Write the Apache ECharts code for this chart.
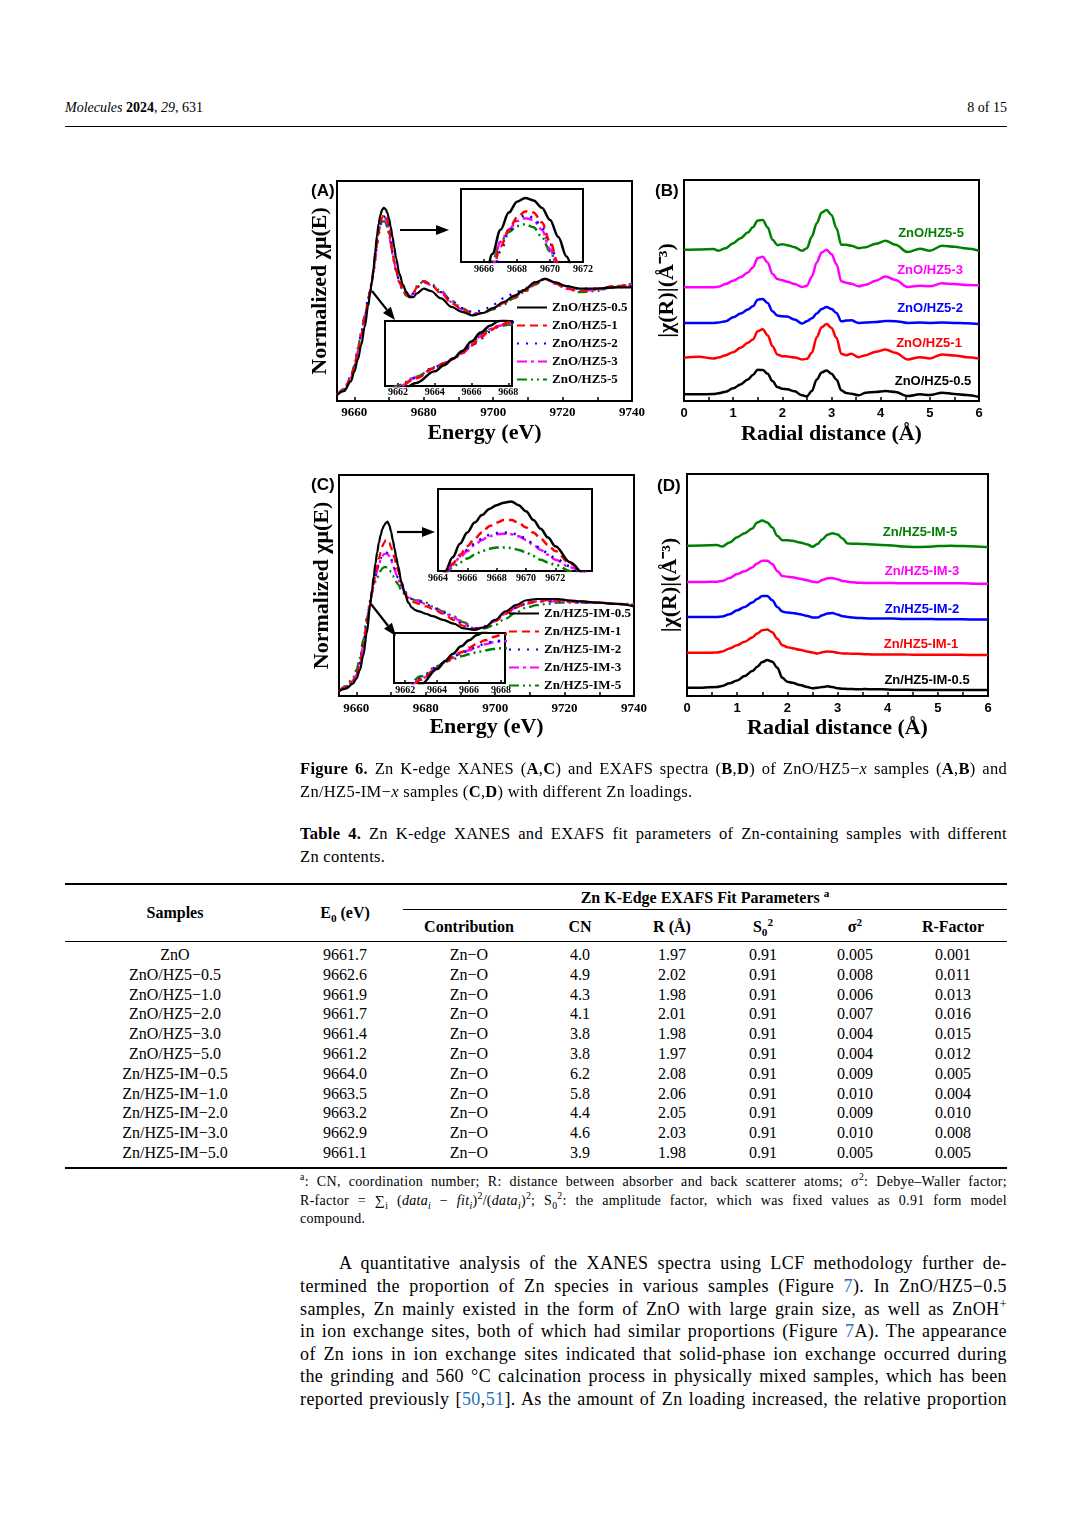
<!DOCTYPE html>
<html>
<head>
<meta charset="utf-8">
<title>Figure 6</title>
<script src="https://cdn.jsdelivr.net/npm/echarts@6.0.0/dist/echarts.min.js"></script>
<style>
  html, body { margin: 0; padding: 0; background: #fff; }
  body { position: relative; width: 1072px; height: 1516px; overflow: hidden; font-family: 'Liberation Serif', 'Times New Roman', serif; color: #000; }
  #fig { position: absolute; left: 0; top: 0; width: 1072px; height: 760px; }
  .t { position: absolute; white-space: nowrap; }
  .ln { position: absolute; text-align: justify; text-align-last: justify; letter-spacing: 0.3px; }
  .ln.end { text-align-last: left; }
  .rule { position: absolute; background: #000; }
  .c { position: absolute; white-space: nowrap; transform: translateX(-50%); line-height: 20px; font-size: 16px; }
  .ref { color: #2a6ebb; }
  sub, sup { font-size: 70%; line-height: 0; }
</style>
</head>
<body>
<div class="t" style="left:65px;top:99px;font-size:14px;line-height:18px"><i>Molecules</i> <b>2024</b>, <i>29</i>, 631</div>
<div class="t" style="right:65px;top:99px;font-size:14px;line-height:18px">8 of 15</div>
<div class="rule" style="left:65px;top:126px;width:942px;height:1px"></div>

<div id="fig"></div>

<div class="ln" style="left:300px;top:758px;width:707px;font-size:16.5px;line-height:22px"><b>Figure 6.</b> Zn K-edge XANES (<b>A</b>,<b>C</b>) and EXAFS spectra (<b>B</b>,<b>D</b>) of ZnO/HZ5−<i>x</i> samples (<b>A</b>,<b>B</b>) and</div>
<div class="ln end" style="left:300px;top:781px;width:707px;font-size:16.5px;line-height:22px">Zn/HZ5-IM−<i>x</i> samples (<b>C</b>,<b>D</b>) with different Zn loadings.</div>

<div class="ln" style="left:300px;top:823px;width:707px;font-size:16.5px;line-height:22px"><b>Table 4.</b> Zn K-edge XANES and EXAFS fit parameters of Zn-containing samples with different</div>
<div class="ln end" style="left:300px;top:846px;width:707px;font-size:16.5px;line-height:22px">Zn contents.</div>

<div class="rule" style="left:65px;top:883px;width:942px;height:1.5px"></div>
<div class="rule" style="left:403px;top:909px;width:604px;height:1px"></div>
<div class="rule" style="left:65px;top:941px;width:942px;height:1px"></div>
<div class="rule" style="left:65px;top:1167px;width:942px;height:1.5px"></div>
<div id="table"></div>

<div class="ln" style="left:300px;top:1173px;width:707px;font-size:14px;line-height:18px"><sup>a</sup>: CN, coordination number; R: distance between absorber and back scatterer atoms; σ<sup>2</sup>: Debye–Waller factor;</div>
<div class="ln" style="left:300px;top:1192px;width:707px;font-size:14px;line-height:18px">R-factor = ∑<sub>i</sub> (<i>data<sub>i</sub></i> − <i>fit<sub>i</sub></i>)<sup>2</sup>/(<i>data<sub>i</sub></i>)<sup>2</sup>; S<sub>0</sub><sup>2</sup>: the amplitude factor, which was fixed values as 0.91 form model</div>
<div class="ln end" style="left:300px;top:1210px;width:707px;font-size:14px;line-height:18px">compound.</div>

<div class="ln" style="left:339px;top:1252px;width:668px;font-size:18px;line-height:22px;letter-spacing:0.4px">A quantitative analysis of the XANES spectra using LCF methodology further de-</div>
<div class="ln" style="left:300px;top:1275px;width:707px;font-size:18px;line-height:22px;letter-spacing:0.4px">termined the proportion of Zn species in various samples (Figure <span class="ref">7</span>). In ZnO/HZ5−0.5</div>
<div class="ln" style="left:300px;top:1298px;width:707px;font-size:18px;line-height:22px;letter-spacing:0.4px">samples, Zn mainly existed in the form of ZnO with large grain size, as well as ZnOH<sup>+</sup></div>
<div class="ln" style="left:300px;top:1320px;width:707px;font-size:18px;line-height:22px;letter-spacing:0.4px">in ion exchange sites, both of which had similar proportions (Figure <span class="ref">7</span>A). The appearance</div>
<div class="ln" style="left:300px;top:1343px;width:707px;font-size:18px;line-height:22px;letter-spacing:0.4px">of Zn ions in ion exchange sites indicated that solid-phase ion exchange occurred during</div>
<div class="ln" style="left:300px;top:1365px;width:707px;font-size:18px;line-height:22px;letter-spacing:0.4px">the grinding and 560 °C calcination process in physically mixed samples, which has been</div>
<div class="ln" style="left:300px;top:1388px;width:707px;font-size:18px;line-height:22px;letter-spacing:0.4px">reported previously [<span class="ref">50</span>,<span class="ref">51</span>]. As the amount of Zn loading increased, the relative proportion</div>

<script>
// ---- XANES energy grid (eV) and spectra ----
const energy = [9655, 9657, 9659, 9660, 9661, 9662, 9663, 9664,
  9664.5, 9665, 9665.5, 9666, 9666.5, 9667, 9667.5, 9668, 9668.5, 9669, 9669.5, 9670, 9670.5, 9671, 9671.5, 9672,
  9673, 9674, 9675, 9676, 9677, 9678, 9680, 9682,
  9685, 9688, 9691, 9694, 9697, 9700, 9703, 9706, 9709, 9712, 9715, 9718, 9721,
  9725, 9730, 9735, 9740];

const xanesA_05 = [0.05, 0.08, 0.16, 0.24, 0.34, 0.46, 0.61, 0.78,
  0.87, 0.97, 1.08, 1.22, 1.35, 1.45, 1.52, 1.565, 1.58, 1.57, 1.54, 1.49, 1.42, 1.34, 1.26, 1.17,
  1.04, 0.95, 0.89, 0.85, 0.85, 0.88, 0.92, 0.90,
  0.84, 0.77, 0.73, 0.70, 0.72, 0.76, 0.81, 0.86, 0.91, 0.97, 1.00, 0.97, 0.94,
  0.92, 0.92, 0.93, 0.93];
const xanesA_1 = [0.05, 0.09, 0.19, 0.28, 0.40, 0.54, 0.68, 0.83,
  0.90, 0.97, 1.05, 1.16, 1.28, 1.38, 1.45, 1.50, 1.525, 1.52, 1.48, 1.40, 1.31, 1.22, 1.14, 1.07,
  0.97, 0.91, 0.87, 0.86, 0.88, 0.93, 0.98, 0.95,
  0.88, 0.80, 0.75, 0.71, 0.72, 0.76, 0.80, 0.85, 0.90, 0.96, 1.00, 0.96, 0.92,
  0.90, 0.92, 0.94, 0.95];
const xanesA_2 = [0.05, 0.09, 0.19, 0.28, 0.41, 0.55, 0.69, 0.84,
  0.90, 0.97, 1.05, 1.15, 1.26, 1.36, 1.44, 1.49, 1.51, 1.50, 1.46, 1.39, 1.31, 1.22, 1.14, 1.07,
  0.97, 0.91, 0.87, 0.86, 0.88, 0.93, 0.97, 0.95,
  0.89, 0.82, 0.76, 0.73, 0.74, 0.79, 0.84, 0.88, 0.92, 0.97, 1.00, 0.97, 0.94,
  0.92, 0.92, 0.93, 0.94];
const xanesA_3 = [0.05, 0.09, 0.19, 0.28, 0.41, 0.55, 0.69, 0.83,
  0.89, 0.96, 1.05, 1.17, 1.30, 1.40, 1.45, 1.485, 1.497, 1.49, 1.45, 1.37, 1.28, 1.20, 1.13, 1.06,
  0.97, 0.91, 0.86, 0.85, 0.88, 0.93, 0.98, 0.95,
  0.89, 0.81, 0.75, 0.71, 0.72, 0.76, 0.80, 0.85, 0.90, 0.96, 1.00, 0.96, 0.92,
  0.90, 0.91, 0.93, 0.95];
const xanesA_5 = [0.05, 0.10, 0.20, 0.29, 0.43, 0.57, 0.70, 0.84,
  0.90, 0.96, 1.05, 1.18, 1.32, 1.40, 1.44, 1.465, 1.472, 1.46, 1.42, 1.36, 1.29, 1.21, 1.14, 1.07,
  0.97, 0.90, 0.86, 0.85, 0.89, 0.94, 0.98, 0.96,
  0.90, 0.82, 0.76, 0.72, 0.72, 0.75, 0.79, 0.84, 0.89, 0.95, 1.00, 0.96, 0.92,
  0.89, 0.90, 0.94, 0.96];

const xanesC_05 = [0.04, 0.06, 0.10, 0.14, 0.21, 0.33, 0.51, 0.74,
  0.86, 0.97, 1.08, 1.17, 1.25, 1.31, 1.36, 1.39, 1.41, 1.42, 1.39, 1.34, 1.27, 1.20, 1.13, 1.06,
  0.93, 0.83, 0.76, 0.72, 0.70, 0.69, 0.67, 0.65,
  0.62, 0.59, 0.55, 0.54, 0.56, 0.62, 0.69, 0.74, 0.78, 0.79, 0.79, 0.79, 0.78,
  0.77, 0.76, 0.75, 0.73];
const xanesC_1 = [0.04, 0.07, 0.12, 0.17, 0.26, 0.40, 0.58, 0.75,
  0.84, 0.92, 0.99, 1.06, 1.12, 1.17, 1.22, 1.25, 1.27, 1.27, 1.25, 1.21, 1.17, 1.12, 1.07, 1.02,
  0.92, 0.84, 0.79, 0.77, 0.76, 0.75, 0.73, 0.71,
  0.67, 0.62, 0.57, 0.54, 0.56, 0.61, 0.67, 0.72, 0.76, 0.77, 0.78, 0.78, 0.77,
  0.77, 0.76, 0.75, 0.74];
const xanesC_2 = [0.04, 0.07, 0.13, 0.18, 0.27, 0.42, 0.60, 0.77,
  0.85, 0.92, 0.98, 1.03, 1.08, 1.12, 1.15, 1.165, 1.17, 1.165, 1.15, 1.12, 1.08, 1.04, 1.00, 0.96,
  0.90, 0.85, 0.81, 0.79, 0.78, 0.77, 0.75, 0.72,
  0.68, 0.63, 0.58, 0.55, 0.57, 0.62, 0.68, 0.72, 0.75, 0.77, 0.77, 0.77, 0.77,
  0.76, 0.76, 0.75, 0.74];
const xanesC_3 = [0.04, 0.07, 0.12, 0.17, 0.27, 0.41, 0.59, 0.76,
  0.84, 0.91, 0.97, 1.02, 1.07, 1.11, 1.14, 1.155, 1.16, 1.155, 1.14, 1.11, 1.07, 1.03, 0.99, 0.95,
  0.89, 0.85, 0.81, 0.79, 0.78, 0.77, 0.75, 0.72,
  0.68, 0.64, 0.59, 0.55, 0.56, 0.61, 0.67, 0.72, 0.75, 0.77, 0.77, 0.77, 0.77,
  0.76, 0.76, 0.75, 0.74];
const xanesC_5 = [0.04, 0.08, 0.15, 0.21, 0.31, 0.46, 0.63, 0.78,
  0.84, 0.89, 0.93, 0.96, 0.99, 1.02, 1.04, 1.05, 1.05, 1.045, 1.03, 1.01, 0.98, 0.95, 0.93, 0.91,
  0.86, 0.83, 0.80, 0.79, 0.78, 0.78, 0.76, 0.73,
  0.69, 0.65, 0.60, 0.55, 0.55, 0.58, 0.63, 0.68, 0.72, 0.74, 0.75, 0.76, 0.76,
  0.76, 0.76, 0.75, 0.75];

// ---- EXAFS radial grid (Å) and |χ(R)| above each curve's own baseline ----
const radial = [0, 0.3, 0.6, 0.7, 0.85,
  1.0, 1.15, 1.3, 1.4, 1.5, 1.6, 1.7, 1.8, 1.9,
  2.0, 2.1, 2.25, 2.4, 2.5, 2.6, 2.7, 2.8, 2.9,
  3.0, 3.1, 3.2, 3.3, 3.4, 3.55, 3.7, 3.9,
  4.1, 4.3, 4.55, 4.8,
  5.0, 5.25, 5.5, 5.75, 6.0];

const exafsB_05 = [0, 0, 0.01, 0.03, 0.08,
  0.18, 0.30, 0.45, 0.58, 0.74, 0.73, 0.62, 0.40, 0.22,
  0.17, 0.15, 0.09, -0.03, -0.06, 0.10, 0.45, 0.66, 0.72,
  0.62, 0.45, 0.12, 0.04, 0.02, -0.03, 0.05, 0.07,
  0.10, 0.07, -0.05, 0.00,
  -0.02, 0.05, 0.01, -0.02, -0.08];
const exafsB_1 = [0, 0.03, -0.02, 0.01, 0.08,
  0.17, 0.30, 0.45, 0.55, 0.80, 0.86, 0.68, 0.35, 0.10,
  0.05, 0.04, 0.01, -0.05, -0.03, 0.15, 0.62, 0.92, 1.02,
  0.90, 0.60, 0.12, 0.08, 0.12, 0.02, 0.08, 0.18,
  0.25, 0.15, -0.05, 0.02,
  -0.02, 0.10, 0.07, 0.02, -0.02];
const exafsB_2 = [0, 0, 0, 0.01, 0.05,
  0.17, 0.28, 0.40, 0.50, 0.70, 0.72, 0.60, 0.35, 0.22,
  0.20, 0.19, 0.10, -0.02, 0.05, 0.14, 0.28, 0.42, 0.48,
  0.42, 0.30, 0.05, 0.07, 0.08, 0.00, 0.01, 0.03,
  0.06, 0.05, 0.00, 0.01,
  0.00, 0.01, 0.00, -0.01, -0.03];
const exafsB_3 = [0, 0, 0, 0.02, 0.10,
  0.20, 0.30, 0.45, 0.60, 0.88, 0.92, 0.75, 0.40, 0.25,
  0.21, 0.17, 0.10, 0.01, 0.05, 0.32, 0.75, 1.05, 1.13,
  1.00, 0.70, 0.18, 0.14, 0.11, 0.03, 0.08, 0.20,
  0.33, 0.22, 0.01, 0.05,
  0.03, 0.12, 0.10, 0.07, 0.06];
const exafsB_5 = [0, 0.01, 0.02, -0.03, 0.05,
  0.20, 0.35, 0.52, 0.68, 0.88, 0.90, 0.68, 0.30, 0.14,
  0.17, 0.14, 0.08, -0.03, 0.05, 0.40, 0.80, 1.12, 1.20,
  1.05, 0.65, 0.15, 0.15, 0.12, 0.05, 0.08, 0.18,
  0.27, 0.15, -0.07, 0.03,
  -0.03, 0.12, 0.09, 0.04, -0.03];

const exafsD_05 = [0, 0, 0.02, 0.05, 0.13,
  0.22, 0.35, 0.50, 0.63, 0.77, 0.83, 0.78, 0.60, 0.30,
  0.18, 0.15, 0.08, 0.02, -0.02, 0.00, 0.02, 0.04, 0.02,
  -0.02, -0.03, -0.04, -0.04, -0.05, -0.04, -0.05, -0.05,
  -0.06, -0.06, -0.07, -0.07,
  -0.07, -0.07, -0.07, -0.07, -0.07];
const exafsD_1 = [0, 0, 0.01, 0.04, 0.13,
  0.23, 0.33, 0.46, 0.58, 0.68, 0.70, 0.62, 0.42, 0.23,
  0.17, 0.14, 0.09, 0.04, 0.01, -0.02, 0.02, 0.04, 0.03,
  0.00, -0.02, -0.02, -0.03, -0.03, -0.04, -0.05, -0.05,
  -0.05, -0.05, -0.06, -0.06,
  -0.06, -0.06, -0.06, -0.07, -0.07];
const exafsD_2 = [0, 0, 0, 0.01, 0.08,
  0.20, 0.30, 0.43, 0.54, 0.63, 0.63, 0.50, 0.30, 0.16,
  0.13, 0.12, 0.08, 0.03, -0.02, -0.02, 0.05, 0.10, 0.12,
  0.07, 0.02, 0.00, -0.02, -0.03, -0.04, -0.05, -0.05,
  -0.05, -0.06, -0.06, -0.06,
  -0.07, -0.07, -0.07, -0.08, -0.08];
const exafsD_3 = [0, 0, 0.01, 0.03, 0.12,
  0.24, 0.32, 0.44, 0.56, 0.64, 0.64, 0.54, 0.33, 0.18,
  0.16, 0.14, 0.10, 0.05, 0.01, -0.01, 0.06, 0.11, 0.12,
  0.08, 0.03, 0.01, -0.01, -0.02, -0.03, -0.03, -0.03,
  -0.03, -0.04, -0.04, -0.04,
  -0.04, -0.04, -0.04, -0.05, -0.05];
const exafsD_5 = [0, 0.01, 0.02, -0.02, 0.10,
  0.26, 0.38, 0.52, 0.70, 0.76, 0.70, 0.55, 0.30, 0.17,
  0.17, 0.15, 0.10, 0.04, -0.03, 0.05, 0.20, 0.33, 0.38,
  0.34, 0.22, 0.07, 0.06, 0.06, 0.05, 0.04, 0.02,
  0.01, -0.02, -0.04, -0.03,
  -0.01, 0.00, -0.01, -0.02, -0.04];

// ---- sample names and tick values ----
const namesA = ['ZnO/HZ5-0.5', 'ZnO/HZ5-1', 'ZnO/HZ5-2', 'ZnO/HZ5-3', 'ZnO/HZ5-5'];
const namesC = ['Zn/HZ5-IM-0.5', 'Zn/HZ5-IM-1', 'Zn/HZ5-IM-2', 'Zn/HZ5-IM-3', 'Zn/HZ5-IM-5'];
const energyLabels = [9660, 9680, 9700, 9720, 9740];
const energyTicks = [9660, 9670, 9680, 9690, 9700, 9710, 9720, 9730, 9740];
const insetA1Labels = [9666, 9668, 9670, 9672];
const insetA2Labels = [9662, 9664, 9666, 9668];
const insetC1Labels = [9664, 9666, 9668, 9670, 9672];
const insetC2Labels = [9662, 9664, 9666, 9668];
const radialLabels = [0, 1, 2, 3, 4, 5, 6];
const radialTicks = [0, 0.5, 1, 1.5, 2, 2.5, 3, 3.5, 4, 4.5, 5, 5.5, 6];

// ---- Table 4 ----
const tblSamples = ['ZnO', 'ZnO/HZ5−0.5', 'ZnO/HZ5−1.0', 'ZnO/HZ5−2.0', 'ZnO/HZ5−3.0', 'ZnO/HZ5−5.0',
  'Zn/HZ5-IM−0.5', 'Zn/HZ5-IM−1.0', 'Zn/HZ5-IM−2.0', 'Zn/HZ5-IM−3.0', 'Zn/HZ5-IM−5.0'];
const tblE0 = ['9661.7', '9662.6', '9661.9', '9661.7', '9661.4', '9661.2', '9664.0', '9663.5', '9663.2', '9662.9', '9661.1'];
const tblContribution = ['Zn−O', 'Zn−O', 'Zn−O', 'Zn−O', 'Zn−O', 'Zn−O', 'Zn−O', 'Zn−O', 'Zn−O', 'Zn−O', 'Zn−O'];
const tblCN = ['4.0', '4.9', '4.3', '4.1', '3.8', '3.8', '6.2', '5.8', '4.4', '4.6', '3.9'];
const tblR = ['1.97', '2.02', '1.98', '2.01', '1.98', '1.97', '2.08', '2.06', '2.05', '2.03', '1.98'];
const tblS02 = ['0.91', '0.91', '0.91', '0.91', '0.91', '0.91', '0.91', '0.91', '0.91', '0.91', '0.91'];
const tblSigma2 = ['0.005', '0.008', '0.006', '0.007', '0.004', '0.004', '0.009', '0.010', '0.009', '0.010', '0.005'];
const tblRFactor = ['0.001', '0.011', '0.013', '0.016', '0.015', '0.012', '0.005', '0.004', '0.010', '0.008', '0.005'];

// build table
(function () {
  const host = document.getElementById('table');
  const colX = [175, 345, 469, 580, 672, 763, 855, 953];
  function cell(x, top, html, bold) {
    const d = document.createElement('div');
    d.className = 'c';
    d.style.left = x + 'px';
    d.style.top = top + 'px';
    if (bold) d.style.fontWeight = 'bold';
    d.innerHTML = html;
    host.appendChild(d);
  }
  cell(705, 888, 'Zn K-Edge EXAFS Fit Parameters <sup>a</sup>', true);
  cell(colX[0], 903, 'Samples', true);
  cell(colX[1], 903, 'E<sub>0</sub> (eV)', true);
  ['Contribution', 'CN', 'R (Å)', 'S<sub>0</sub><sup>2</sup>', 'σ<sup>2</sup>', 'R-Factor'].forEach(function (h, i) {
    cell(colX[i + 2], 917, h, true);
  });
  const cols = [tblSamples, tblE0, tblContribution, tblCN, tblR, tblS02, tblSigma2, tblRFactor];
  tblSamples.forEach(function (s, r) {
    cols.forEach(function (col, c) { cell(colX[c], 945 + r * 19.8, col[r], false); });
  });
})();

// ---- chart ----
const colors = ['#000000', '#ff0000', '#0000ff', '#ff00ff', '#008000'];
const dashes = ['solid', [8, 5], [2, 7], [10, 4, 3, 4], [10, 4, 2, 4, 2, 4]];
const drawOrder = [4, 3, 2, 1, 0];
const xanesA = [xanesA_05, xanesA_1, xanesA_2, xanesA_3, xanesA_5];
const xanesC = [xanesC_05, xanesC_1, xanesC_2, xanesC_3, xanesC_5];
const exafsB = [exafsB_05, exafsB_1, exafsB_2, exafsB_3, exafsB_5];
const exafsD = [exafsD_05, exafsD_1, exafsD_2, exafsD_3, exafsD_5];
const offsetB = [0.20, 1.30, 2.35, 3.42, 4.55];
const offsetD = [0.25, 1.30, 2.38, 3.43, 4.52];

const SERIF = 'Liberation Serif';
const SANS = 'Liberation Sans';

function lineSeries(name, xs, ys, axis, k, width, shift, dash) {
  return {
    name: name, type: 'line', xAxisIndex: axis, yAxisIndex: axis,
    data: xs.map(function (x, i) { return [x, ys[i] + shift]; }),
    symbol: 'none', showSymbol: false, smooth: 0.35, smoothMonotone: 'x', clip: true, silent: true,
    lineStyle: { color: colors[k], width: width, type: dash },
    itemStyle: { color: colors[k] }
  };
}

const series = [];
[0, 1, 2].forEach(function (ax) {
  drawOrder.forEach(function (k) {
    series.push(lineSeries(namesA[k], energy, xanesA[k], ax, k, ax === 0 ? 2.2 : 2.5, 0, dashes[k]));
  });
});
drawOrder.forEach(function (k) { series.push(lineSeries(namesA[k], radial, exafsB[k], 3, k, 2.5, offsetB[k], 'solid')); });
[4, 5, 6].forEach(function (ax) {
  drawOrder.forEach(function (k) {
    series.push(lineSeries(namesC[k], energy, xanesC[k], ax, k, ax === 4 ? 2.2 : 2.5, 0, dashes[k]));
  });
});
drawOrder.forEach(function (k) { series.push(lineSeries(namesC[k], radial, exafsD[k], 7, k, 2.5, offsetD[k], 'solid')); });

function frame(left, top, width, height, bg) {
  return { left: left, top: top, width: width, height: height, show: true, borderColor: '#000', borderWidth: 2,
    backgroundColor: bg, containLabel: false, outerBoundsMode: 'none' };
}

function plain(v) { return String(v); }

function xAxisDef(grid, min, max, labels, ticks, font, size, margin, name, gap) {
  return {
    gridIndex: grid, type: 'value', min: min, max: max,
    axisLine: { show: false }, splitLine: { show: false },
    axisTick: { show: true, inside: true, length: ticks ? 4 : 3, customValues: ticks || labels,
      lineStyle: { color: '#000', width: 1.5 } },
    axisLabel: { customValues: labels, formatter: plain, fontFamily: font, fontWeight: 'bold', fontSize: size,
      color: '#000', margin: margin, hideOverlap: false },
    name: name || '', nameLocation: 'middle', nameGap: gap || 0,
    nameTextStyle: { fontFamily: SERIF, fontWeight: 'bold', fontSize: 22, color: '#000' }
  };
}

function yAxisDef(grid, min, max, name, gap) {
  return {
    gridIndex: grid, type: 'value', min: min, max: max,
    axisLine: { show: false }, axisTick: { show: false }, axisLabel: { show: false }, splitLine: { show: false },
    name: name || '', nameLocation: 'middle', nameRotate: 90, nameGap: gap || 0,
    nameTextStyle: { fontFamily: SERIF, fontWeight: 'bold', fontSize: 22, color: '#000' }
  };
}

function arrow(x1, y1, x2, y2) {
  const dx = x2 - x1, dy = y2 - y1, len = Math.sqrt(dx * dx + dy * dy);
  const ux = dx / len, uy = dy / len, hl = 13, hw = 5;
  const bx = x2 - ux * hl, by = y2 - uy * hl;
  return [
    { type: 'line', shape: { x1: x1, y1: y1, x2: bx, y2: by }, style: { stroke: '#000', lineWidth: 2.2 }, silent: true },
    { type: 'polygon', shape: { points: [[x2, y2], [bx - uy * hw, by + ux * hw], [bx + uy * hw, by - ux * hw]] },
      style: { fill: '#000' }, silent: true }
  ];
}

function txt(text, x, y, color, size, font, align) {
  return { type: 'text', x: x, y: y, silent: true,
    style: { text: text, fill: color, fontSize: size, fontWeight: 'bold', fontFamily: font,
      align: align || 'center', verticalAlign: 'middle' } };
}

const legendText = { fontFamily: SERIF, fontWeight: 'bold', fontSize: 13, color: '#000' };

const option = {
  animation: false,
  backgroundColor: 'transparent',
  textStyle: { fontFamily: SERIF },
  grid: [
    frame(337, 181, 295, 220, 'transparent'),
    frame(461, 189, 122, 73, '#fff'),
    frame(385, 321, 127, 65, '#fff'),
    frame(684, 180, 295, 221, 'transparent'),
    frame(339, 475, 295, 221, 'transparent'),
    frame(438, 489, 154, 82, '#fff'),
    frame(394, 633, 111, 50, '#fff'),
    frame(687, 474, 301, 222, 'transparent')
  ],
  xAxis: [
    xAxisDef(0, 9655, 9740, energyLabels, energyTicks, SERIF, 13, 5, 'Energy (eV)', 21),
    xAxisDef(1, 9664.6, 9672, insetA1Labels, null, SERIF, 10, 2),
    xAxisDef(2, 9661.3, 9668.2, insetA2Labels, null, SERIF, 10, 1),
    xAxisDef(3, 0, 6, radialLabels, radialTicks, SANS, 13, 6, 'Radial distance (Å)', 22),
    xAxisDef(4, 9655, 9740, energyLabels, energyTicks, SERIF, 13, 6, 'Energy (eV)', 20),
    xAxisDef(5, 9664, 9674.5, insetC1Labels, null, SERIF, 10, 2),
    xAxisDef(6, 9661.3, 9668.25, insetC2Labels, null, SERIF, 10, 2),
    xAxisDef(7, 0, 6, radialLabels, radialTicks, SANS, 13, 6, 'Radial distance (Å)', 21)
  ],
  yAxis: [
    yAxisDef(0, 0, 1.8, 'Normalized χμ(E)', 6),
    yAxisDef(1, 1.317, 1.617),
    yAxisDef(2, 0.565, 1.52),
    yAxisDef(3, 0, 6.65, '|χ(R)|(Å⁻³)', 6),
    yAxisDef(4, 0, 1.8, 'Normalized χμ(E)', 6),
    yAxisDef(5, 0.86, 1.52),
    yAxisDef(6, 0.53, 1.28),
    yAxisDef(7, 0, 6.68, '|χ(R)|(Å⁻³)', 6)
  ],
  legend: [
    { data: namesA, orient: 'vertical', left: 516, top: 301, padding: 0, itemWidth: 30, itemHeight: 12, itemGap: 5,
      selectedMode: false, itemStyle: { opacity: 0 }, textStyle: legendText },
    { data: namesC, orient: 'vertical', left: 508, top: 607, padding: 0, itemWidth: 30, itemHeight: 12, itemGap: 5,
      selectedMode: false, itemStyle: { opacity: 0 }, textStyle: legendText }
  ],
  graphic: [].concat(
    arrow(400, 230, 449, 230),
    arrow(372, 291, 395, 320),
    arrow(397, 532, 435, 532),
    arrow(371, 604, 396, 636),
    [
      txt('(A)', 311, 191, '#000', 17, SANS, 'left'),
      txt('(B)', 655, 191, '#000', 17, SANS, 'left'),
      txt('(C)', 311, 485, '#000', 17, SANS, 'left'),
      txt('(D)', 657, 486, '#000', 17, SANS, 'left'),
      txt(namesA[4], 931, 233, colors[4], 13, SANS),
      txt(namesA[3], 930, 270, colors[3], 13, SANS),
      txt(namesA[2], 930, 308, colors[2], 13, SANS),
      txt(namesA[1], 929, 343, colors[1], 13, SANS),
      txt(namesA[0], 933, 381, colors[0], 13, SANS),
      txt(namesC[4], 920, 532, colors[4], 13, SANS),
      txt(namesC[3], 922, 571, colors[3], 13, SANS),
      txt(namesC[2], 922, 609, colors[2], 13, SANS),
      txt(namesC[1], 921, 644, colors[1], 13, SANS),
      txt(namesC[0], 927, 680, colors[0], 13, SANS)
    ]
  ),
  series: series
};

const chart = echarts.init(document.getElementById('fig'), null, { renderer: 'canvas' });
chart.setOption(option);
</script>
</body>
</html>
